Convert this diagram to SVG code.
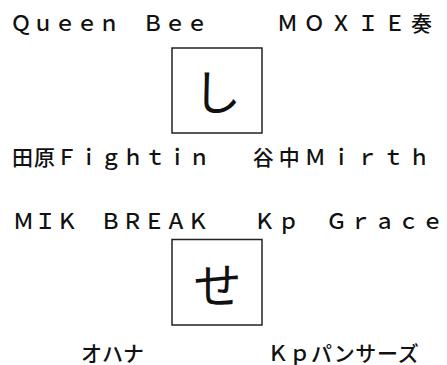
<svg xmlns="http://www.w3.org/2000/svg" width="447" height="365" viewBox="0 0 447 365">
<style>
.lbl{font-family:"Noto Sans CJK JP","Noto Sans",sans-serif;font-size:21px;font-weight:500;fill:#111;}
.big{font-family:"Noto Sans CJK JP","Noto Sans",sans-serif;font-size:48px;fill:#111;text-anchor:middle;}
.box{fill:#fff;stroke:#222;stroke-width:1.5;}
</style>
<rect width="447" height="365" fill="#fff"/>
<g id="node-shi">
<rect class="box" x="172" y="48" width="90" height="85"/>
<text class="big" x="217" y="110">し</text>
</g>
<g id="node-se">
<rect class="box" x="172" y="239.5" width="90" height="85.5"/>
<text class="big" x="217.5" y="303">せ</text>
</g>
<g id="label-queenbee"><text class="lbl" x="10.5" y="30.5" letter-spacing="1.0">Ｑｕｅｅｎ　Ｂｅｅ</text></g>
<g id="label-moxie"><text class="lbl" x="277" y="30.5" letter-spacing="5.8">ＭＯＸＩＥ奏</text></g>
<g id="label-tahara"><text class="lbl" x="12" y="165" letter-spacing="1.1">田原Ｆｉｇｈｔｉｎ</text></g>
<g id="label-yanaka"><text class="lbl" x="252.8" y="165" letter-spacing="5.0">谷中Ｍｉｒｔｈ</text></g>
<g id="label-mik"><text class="lbl" x="13" y="229" letter-spacing="0.8">ＭＩＫ　ＢＲＥＡＫ</text></g>
<g id="label-kpgrace"><text class="lbl" x="254" y="229" letter-spacing="3.0">Ｋｐ　Ｇｒａｃｅ</text></g>
<g id="label-ohana"><text class="lbl" x="81" y="360.5">オハナ</text></g>
<g id="label-kppanthers"><text class="lbl" x="267.5" y="360.5" letter-spacing="0.7">Ｋｐパンサーズ</text></g>
<g id="connectors"></g>
</svg>
